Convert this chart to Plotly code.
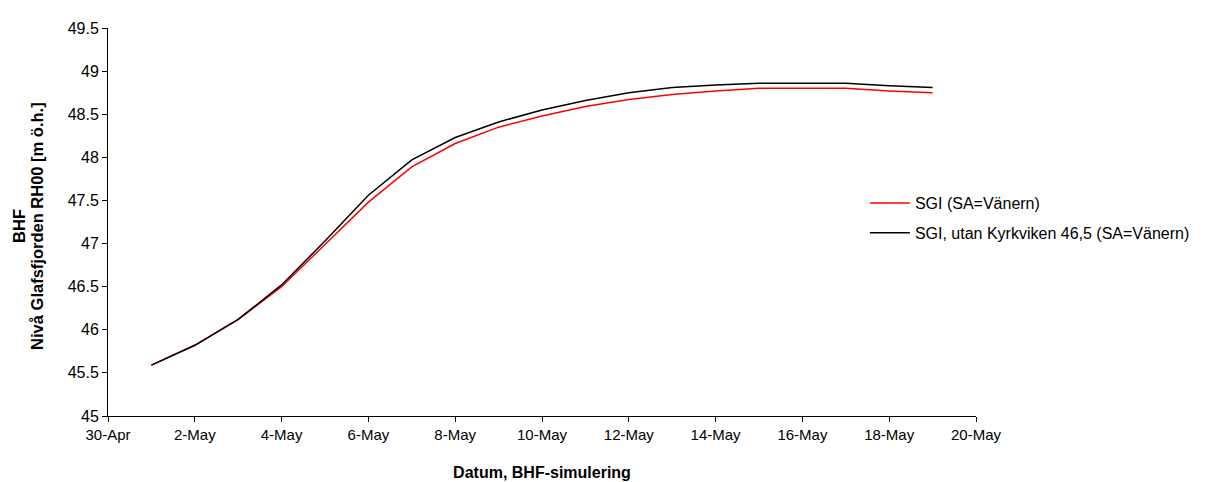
import plotly.graph_objects as go

dates = ["2000-05-%02d" % d for d in range(1, 20)]
sgi = [45.59, 45.82, 46.12, 46.50, 46.99, 47.48, 47.89, 48.16, 48.35, 48.48,
       48.59, 48.67, 48.73, 48.77, 48.80, 48.80, 48.80, 48.77, 48.75]
sgi_utan = [45.59, 45.82, 46.12, 46.52, 47.03, 47.56, 47.97, 48.23, 48.41, 48.55,
            48.66, 48.75, 48.81, 48.84, 48.86, 48.86, 48.86, 48.83, 48.81]
names = ["SGI (SA=Vänern)", "SGI, utan Kyrkviken 46,5 (SA=Vänern)"]
ytitle_lines = ["BHF", "Nivå Glafsfjorden RH00 [m ö.h.]"]

fig = go.Figure()
fig.add_trace(go.Scatter(x=dates, y=sgi, mode="lines", name=names[0],
                         line=dict(color="#FF0000", width=1.5), legendgroup="a"))
fig.add_trace(go.Scatter(x=dates, y=sgi_utan, mode="lines", name=names[1],
                         line=dict(color="#000000", width=1.5), legendgroup="b"))

font = "Liberation Sans, Arial, sans-serif"
for txt, shift in zip(ytitle_lines, [-89, -71]):
    fig.add_annotation(text="<b>%s</b>" % txt, xref="paper", yref="paper",
                       x=0, y=0.49, xshift=shift, xanchor="center",
                       yanchor="middle", textangle=-90, showarrow=False,
                       font=dict(size=16.5, family=font, color="#000000"))

fig.update_layout(
    width=1207, height=482,
    margin=dict(l=100, r=239, t=14, b=74),
    plot_bgcolor="white", paper_bgcolor="white",
    font=dict(family=font, size=16, color="#000000"),
    showlegend=True,
    legend=dict(x=0.872, y=0.51, xanchor="left", yanchor="middle",
                bgcolor="rgba(0,0,0,0)", font=dict(size=16),
                tracegroupgap=6, itemwidth=40),
    xaxis=dict(
        type="date", range=["2000-04-30", "2000-05-20"],
        tick0="2000-04-30", dtick=2 * 86400000, tickformat="%-d-%b",
        showgrid=False, zeroline=False, showline=True, linecolor="#000000",
        linewidth=1, ticks="outside", ticklen=5, tickcolor="#000000",
        tickfont=dict(size=15),
        title=dict(text="<b>Datum, BHF-simulering</b>", standoff=24,
                   font=dict(size=16)),
    ),
    yaxis=dict(
        range=[45, 49.5], dtick=0.5, tick0=45,
        showgrid=False, zeroline=False, showline=True, linecolor="#000000",
        linewidth=1, ticks="outside", ticklen=5, tickcolor="#000000",
        tickfont=dict(size=16),
    ),
)

fig.write_html("out.html")
